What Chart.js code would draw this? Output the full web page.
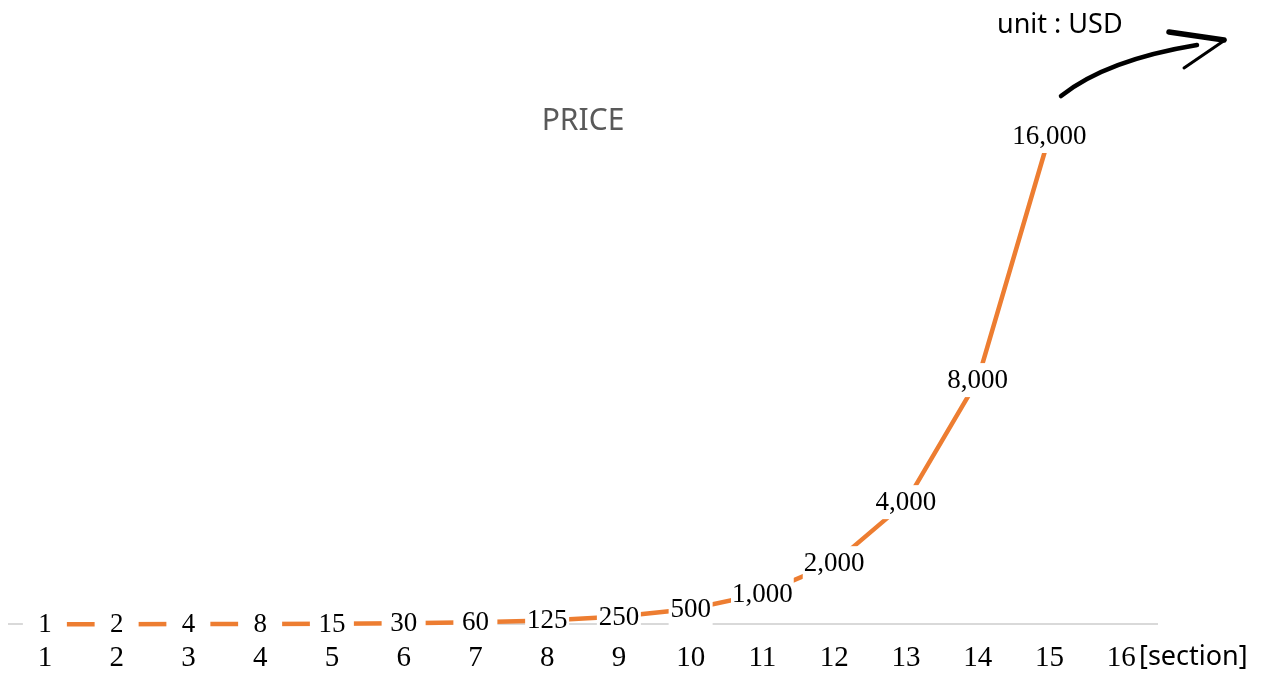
<!DOCTYPE html>
<html lang="en">
<head>
    <meta charset="UTF-8">
    <title>PRICE</title>
    <script src="https://cdn.jsdelivr.net/npm/chart.js@4"></script>
    <style>
      body { margin: 0; background: #fff; }
      #wrap { width: 1266px; height: 675px; position: relative; }
    </style>
</head>
<body>
    <div id="wrap">
        <canvas id="priceChart"></canvas>
    </div>

    <script>
        // chart data
        const sections = ['1', '2', '3', '4', '5', '6', '7', '8', '9', '10', '11', '12', '13', '14', '15', '16'];
        const prices = [1, 2, 4, 8, 15, 30, 60, 125, 250, 500, 1000, 2000, 4000, 8000, 16000, null];

        const SERIF = '"Liberation Serif", "Times New Roman", serif';
        const SANS = '"Noto Sans", "Open Sans", sans-serif';

        // value labels on the line (white box behind the text)
        const valueLabels = {
            id: 'valueLabels',
            afterDatasetsDraw(chart) {
                const ctx = chart.ctx;
                const meta = chart.getDatasetMeta(0);
                ctx.save();
                ctx.font = '27px ' + SERIF;
                ctx.textAlign = 'center';
                ctx.textBaseline = 'middle';
                meta.data.forEach((pt, i) => {
                    if (prices[i] == null) return;
                    const text = prices[i].toLocaleString('en-US');
                    const w = Math.max(ctx.measureText(text).width + 2, 44);
                    const h = 34;
                    ctx.fillStyle = '#ffffff';
                    ctx.fillRect(pt.x - w / 2, pt.y - h / 2, w, h);
                    ctx.fillStyle = '#000000';
                    ctx.fillText(text, pt.x, pt.y + 1);
                });
                ctx.restore();
            }
        };

        // title, unit note, arrow and axis name
        const extras = {
            id: 'extras',
            afterDraw(chart) {
                const ctx = chart.ctx;
                const area = chart.chartArea;
                ctx.save();

                ctx.fillStyle = '#595959';
                ctx.font = '30px ' + SANS;
                ctx.textAlign = 'center';
                ctx.textBaseline = 'middle';
                ctx.fillText('PRICE', (area.left + area.right) / 2, 121);

                ctx.fillStyle = '#000000';
                ctx.font = '27px ' + SANS;
                ctx.textAlign = 'left';
                ctx.fillText('unit : USD', 997, 25);
                ctx.fillText('[section]', 1139, 657);

                // hand drawn arrow
                ctx.strokeStyle = '#000000';
                ctx.lineCap = 'round';
                ctx.lineWidth = 4.5;
                ctx.beginPath();
                ctx.moveTo(1061, 96);
                ctx.quadraticCurveTo(1106, 60, 1197, 45);
                ctx.stroke();

                ctx.lineWidth = 5.5;
                ctx.beginPath();
                ctx.moveTo(1169, 32);
                ctx.lineTo(1224, 40);
                ctx.stroke();

                ctx.lineWidth = 3;
                ctx.beginPath();
                ctx.moveTo(1225, 40);
                ctx.lineTo(1184, 68);
                ctx.stroke();

                ctx.restore();
            }
        };

        const ctx = document.getElementById('priceChart').getContext('2d');
        new Chart(ctx, {
            type: 'line',
            data: {
                labels: sections,
                datasets: [{
                    label: 'PRICE',
                    data: prices,
                    borderColor: '#ED7D31',
                    backgroundColor: '#ED7D31',
                    borderWidth: 4.5,
                    pointRadius: 0,
                    tension: 0,
                    clip: false
                }]
            },
            options: {
                responsive: true,
                maintainAspectRatio: false,
                animation: false,
                layout: { padding: { left: 9, right: 109, top: 136, bottom: -18 } },
                plugins: {
                    legend: { display: false },
                    tooltip: { enabled: false }
                },
                scales: {
                    x: {
                        offset: true,
                        grid: { display: false, drawTicks: false },
                        border: { display: true, color: '#d9d9d9', width: 2 },
                        ticks: {
                            color: '#000000',
                            padding: 17,
                            maxRotation: 0,
                            autoSkip: false,
                            font: { family: SERIF, size: 29 }
                        }
                    },
                    y: {
                        display: false,
                        min: 0,
                        max: 16000
                    }
                }
            },
            plugins: [valueLabels, extras]
        });
    </script>
</body>
</html>
